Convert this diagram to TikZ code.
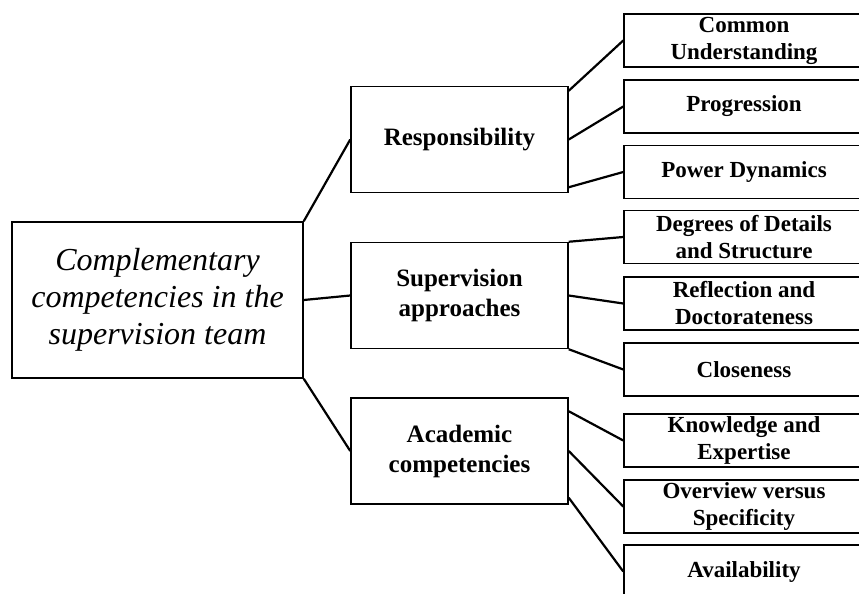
\documentclass[tikz,border=0pt]{standalone}
\usepackage{fontspec}
\setmainfont{Liberation Serif}
\tikzset{
  rootbox/.style={draw, line width=1.5pt, minimum width=291pt, minimum height=156pt,
    align=center, inner sep=0pt, font=\itshape\fontsize{32}{37}\selectfont},
  midbox/.style={draw, line width=1.5pt, minimum width=217pt, minimum height=106pt,
    align=center, font=\bfseries\fontsize{25}{30}\selectfont},
  leafbox/.style={draw, line width=1.5pt, minimum width=240pt, minimum height=53pt,
    align=center, inner sep=0pt, font=\bfseries\fontsize{23}{27}\selectfont},
  link/.style={line width=2.2pt}
}
\begin{document}
\begin{tikzpicture}[x=1pt,y=-1pt]
  \useasboundingbox (0,0) rectangle (859,594);
  \clip (0,0) rectangle (859,594);

  % Draw the main topic
  \node[rootbox] (root) at (157.5,300) {Complementary\\competencies in the\\supervision team};

  % Draw the three themes
  \node[midbox] (resp) at (459.5,139.5) {Responsibility};
  \node[midbox] (sup) at (459.5,295.5) {Supervision\\approaches};
  \node[midbox] (acad) at (459.5,451) {Academic\\competencies};

  % Draw the sub themes
  \foreach \n/\y/\txt in {com/40.5/{Common\\Understanding}, prog/106.5/Progression,
      pow/172/Power Dynamics, deg/237/{Degrees of Details\\and Structure},
      refl/303.5/{Reflection and\\Doctorateness}, clos/369.5/Closeness,
      know/440.5/{Knowledge and\\Expertise}, over/506.5/{Overview versus\\Specificity},
      avail/571.5/Availability} {
    \node[leafbox] (\n) at (744,\y) {\txt};
  }

  % Connect topic to themes
  \draw[link] (root.north east) -- (resp.west);
  \draw[link] (root.east) -- (sup.west);
  \draw[link] (root.south east) -- (acad.west);

  % Connect themes to sub themes
  \draw[link] ([yshift=-5pt]resp.north east) -- (com.west);
  \draw[link] (resp.east) -- (prog.west);
  \draw[link] ([yshift=6pt]resp.south east) -- (pow.west);
  \draw[link] (sup.north east) -- (deg.west);
  \draw[link] (sup.east) -- (refl.west);
  \draw[link] (sup.south east) -- (clos.west);
  \draw[link] ([yshift=-14pt]acad.north east) -- (know.west);
  \draw[link] (acad.east) -- (over.west);
  \draw[link] ([yshift=7pt]acad.south east) -- (avail.west);
\end{tikzpicture}
\end{document}
